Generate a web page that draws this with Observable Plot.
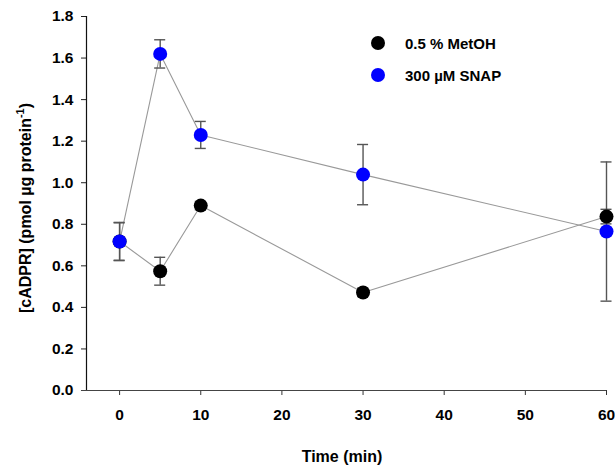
<!DOCTYPE html>
<html><head><meta charset="utf-8">
<script src="https://cdn.jsdelivr.net/npm/d3@7"></script>
<script src="https://cdn.jsdelivr.net/npm/@observablehq/plot@0.6"></script>
<style>
body{margin:0;background:#fff}
svg{font-family:"Liberation Sans",Arial,sans-serif}
</style>
</head><body><div id="chart"></div>
<script>
const times = [0, 5, 10, 30, 60];
const metohMean = [0.717, 0.574, 0.890, 0.472, 0.837];
const metohErr  = [0.09, 0.067, 0.02, 0.02, 0.035];
const snapMean  = [0.717, 1.620, 1.230, 1.039, 0.765];
const snapErr   = [0.092, 0.068, 0.065, 0.145, 0.335];
const seriesNames = ["0.5 % MetOH", "300 µM SNAP"];
const seriesColors = ["#000000", "#0000ff"];
const xTicks = [0, 10, 20, 30, 40, 50, 60];
const yTicks = [0, 0.2, 0.4, 0.6, 0.8, 1.0, 1.2, 1.4, 1.6, 1.8];
const xLabel = "Time (min)";

const means = [metohMean, snapMean];
const errs = [metohErr, snapErr];
const data = [];
seriesNames.forEach((s, i) => times.forEach((t, j) => data.push({
  series: s, time: t, mean: means[i][j], err: errs[i][j], color: seriesColors[i]
})));
const black = data.filter(d => d.series === seriesNames[0]);
const blue = data.filter(d => d.series === seriesNames[1]);
const capHalf = 0.68;

const chart = Plot.plot({
  width: 615, height: 466,
  marginLeft: 86, marginRight: 9, marginTop: 16, marginBottom: 76,
  style: {fontFamily: '"Liberation Sans", Arial, sans-serif', background: "#fff"},
  x: {domain: [-4.08, 60]},
  y: {domain: [0, 1.8]},
  marks: [
    Plot.axisX({ticks: xTicks, tickSize: 5, tickPadding: 13, fontSize: 15.5, fontWeight: "bold", stroke: "#333", label: null}),
    Plot.axisY({ticks: yTicks, tickSize: 5, tickPadding: 8, fontSize: 15.5, fontWeight: "bold", stroke: "#222", tickFormat: d => d.toFixed(1), label: null}),
    Plot.ruleY([0], {x1: -4.7, x2: 60, stroke: "#444", strokeWidth: 1.2}),
    Plot.ruleX([-4.08], {y1: 0, y2: 1.8, stroke: "#111", strokeWidth: 1.2}),
    Plot.line(data, {x: "time", y: "mean", z: "series", stroke: "#999", strokeWidth: 1.1}),
    Plot.ruleX(data, {x: "time", y1: d => d.mean - d.err, y2: d => d.mean + d.err, stroke: "#555", strokeWidth: 1.4}),
    Plot.ruleY(data, {y: d => d.mean + d.err, x1: d => d.time - capHalf, x2: d => d.time + capHalf, stroke: "#555", strokeWidth: 1.4}),
    Plot.ruleY(data, {y: d => d.mean - d.err, x1: d => d.time - capHalf, x2: d => d.time + capHalf, stroke: "#555", strokeWidth: 1.4}),
    Plot.dot(black, {x: "time", y: "mean", r: 7, fill: seriesColors[0], stroke: null}),
    Plot.dot(blue, {x: "time", y: "mean", r: 7, fill: seriesColors[1], stroke: null})
  ]
});
document.getElementById("chart").appendChild(chart);

const svg = d3.select(chart);
// x axis title
svg.append("text").attr("x", 342).attr("y", 462).attr("text-anchor", "middle")
  .attr("font-size", 16).attr("font-weight", "bold").attr("fill", "#000").text(xLabel);
// y axis title
const yt = svg.append("text").attr("transform", "translate(31,208) rotate(-90)")
  .attr("text-anchor", "middle").attr("font-size", 16).attr("font-weight", "bold").attr("fill", "#000");
yt.append("tspan").text("[cADPR] (pmol µg protein");
yt.append("tspan").attr("font-size", 11).attr("dy", -7).text("-1");
yt.append("tspan").attr("dy", 7).text(")");
// legend
seriesNames.forEach((s, i) => {
  const cy = 43 + i * 32;
  svg.append("circle").attr("cx", 378).attr("cy", cy).attr("r", 7).attr("fill", seriesColors[i]);
  svg.append("text").attr("x", 405).attr("y", cy + 5.5).attr("text-anchor", "start")
    .attr("font-size", 15).attr("font-weight", "bold").attr("fill", "#000").text(s);
});
</script>
</body></html>
